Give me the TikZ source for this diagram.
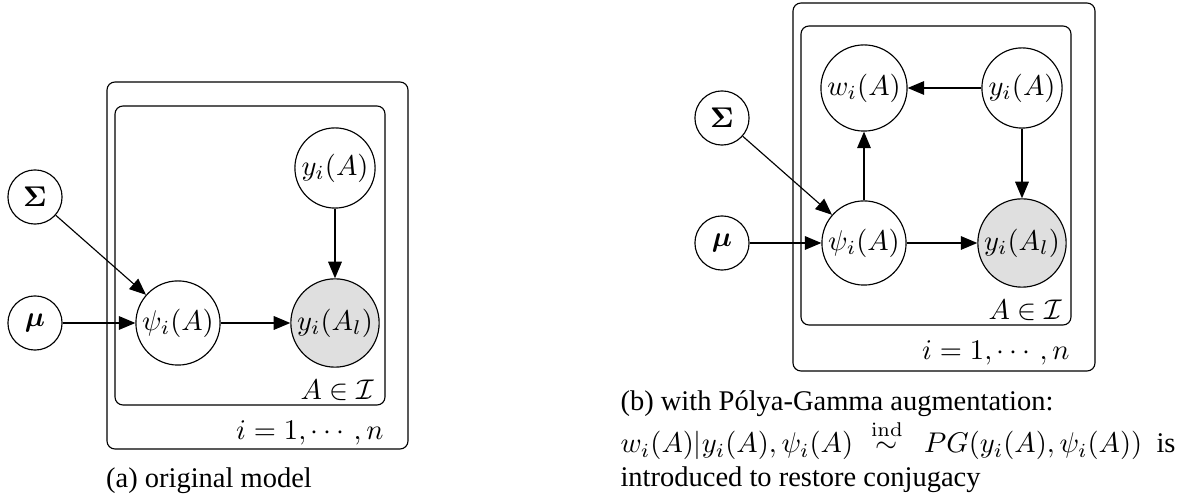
\documentclass[tikz,border=0pt]{standalone}
\usepackage{amsmath}
\usepackage{bm}
\usepackage[no-math]{fontspec}
\setmainfont{Liberation Serif}
\usetikzlibrary{arrows.meta}
\tikzset{
  lat/.style={circle,draw,inner sep=1pt,minimum size=19pt,line width=0.4pt},
  obs/.style={lat,fill=gray!25},
  edge/.style={-{Triangle[length=5.8pt,width=4.8pt]},line width=0.4pt},
  plate/.style={draw,rounded corners=2.8pt,line width=0.4pt},
  lbl/.style={inner sep=0pt,anchor=east},
  captxt/.style={inner sep=0pt,anchor=base west}
}
\begin{document}
\begin{tikzpicture}[x=0.351pt,y=-0.351pt]
\useasboundingbox (0,0) rectangle (1187,498);
% ---------- (a) ----------
\draw[plate] (107,82) rectangle (408,449);
\draw[plate] (115,106) rectangle (385,405);
\node[lat] (sigA) at (35,197) {$\bm{\Sigma}$};
\node[lat] (muA) at (35,323) {$\bm{\mu}$};
\node[lat] (psiA) at (178,323) {$\psi_i(A)$};
\node[lat] (yA) at (335,168) {$y_i(A)$};
\node[obs] (ylA) at (335,323) {$y_i(A_l)$};
\draw[edge] (sigA) -- (psiA);
\draw[edge] (muA) -- (psiA);
\draw[edge] (psiA) -- (ylA);
\draw[edge] (yA) -- (ylA);
\node[lbl] (setA) at (375,390) {$A\in\mathcal{I}$};
\node[lbl] (idxA) at (384,433) {$i=1,\cdots,n$};
\node[inner sep=0pt,anchor=base] (capA) at (209,488) {(a) original model};
% ---------- (b) ----------
\draw[plate] (793,3) rectangle (1095,371);
\draw[plate] (801,26) rectangle (1071,325);
\node[lat] (sigB) at (722,118) {$\bm{\Sigma}$};
\node[lat] (muB) at (722,243) {$\bm{\mu}$};
\node[lat] (psiB) at (864,243) {$\psi_i(A)$};
\node[lat] (wB) at (864,88) {$w_i(A)$};
\node[lat] (yB) at (1022,88) {$y_i(A)$};
\node[obs] (ylB) at (1022,243) {$y_i(A_l)$};
\draw[edge] (sigB) -- (psiB);
\draw[edge] (muB) -- (psiB);
\draw[edge] (psiB) -- (ylB);
\draw[edge] (psiB) -- (wB);
\draw[edge] (yB) -- (wB);
\draw[edge] (yB) -- (ylB);
\node[lbl] (setB) at (1063,310) {$A\in\mathcal{I}$};
\node[lbl] (idxB) at (1070,353) {$i=1,\cdots,n$};
\node[captxt] (capB1) at (620,411) {(b) with Pólya-Gamma augmentation:};
\node[captxt] (capB2) at (620,453) {\hbox to 194.8pt{$w_i(A)|y_i(A),\psi_i(A)$\hskip 0pt plus 1fil$\stackrel{\mathrm{ind}}{\sim}$\hskip 0pt plus 1.2fil$PG(y_i(A),\psi_i(A))$\hskip 0pt plus 0.8fil is}};
\node[captxt] (capB3) at (620,487) {introduced to restore conjugacy};
\end{tikzpicture}
\end{document}
